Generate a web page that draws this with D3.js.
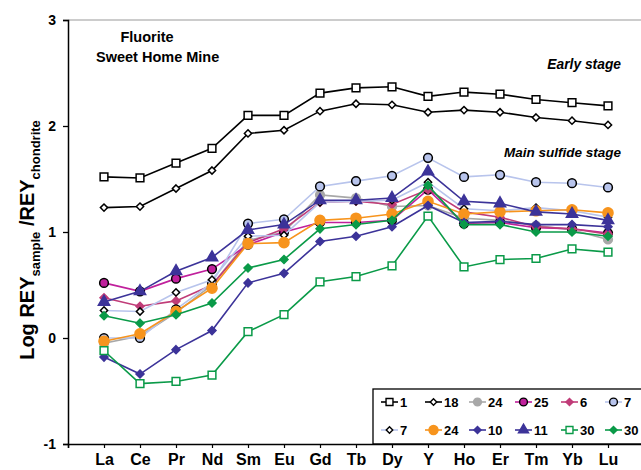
<!DOCTYPE html>
<html><head><meta charset="utf-8">
<script src="https://cdn.jsdelivr.net/npm/d3@7/dist/d3.min.js"></script>
<style>body{margin:0;background:#fff}svg{display:block;font-family:"Liberation Sans",Arial,sans-serif}</style>
</head><body>
<script>
const categories = ["La","Ce","Pr","Nd","Sm","Eu","Gd","Tb","Dy","Y","Ho","Er","Tm","Yb","Lu"];
const yTicks = [-1,0,1,2,3];
const s1     = [1.52,1.51,1.65,1.79,2.10,2.10,2.31,2.36,2.37,2.28,2.32,2.30,2.25,2.22,2.19];
const s18    = [1.23,1.24,1.41,1.58,1.93,1.96,2.14,2.21,2.20,2.13,2.15,2.13,2.08,2.05,2.01];
const s24g   = [-0.05,0.02,0.24,0.50,0.92,1.00,1.35,1.32,1.24,1.25,1.13,1.11,1.06,1.02,0.93];
const s25    = [0.52,0.44,0.56,0.65,0.88,1.00,1.09,1.09,1.11,1.40,1.08,1.09,1.04,1.03,0.99];
const s6     = [0.38,0.30,0.35,0.50,0.90,1.03,1.28,1.29,1.26,1.40,1.19,1.14,1.05,1.03,0.98];
const s7c    = [0.00,0.00,0.27,0.52,1.08,1.12,1.43,1.48,1.53,1.70,1.52,1.54,1.47,1.46,1.42];
const s7d    = [0.26,0.25,0.43,0.55,0.96,0.97,1.28,1.29,1.30,1.47,1.22,1.20,1.23,1.20,1.14];
const s24o   = [-0.03,0.04,0.25,0.47,0.89,0.90,1.11,1.13,1.17,1.29,1.17,1.19,1.20,1.21,1.18];
const s10    = [-0.18,-0.34,-0.11,0.07,0.52,0.61,0.91,0.96,1.05,1.25,1.09,1.10,1.07,1.07,1.05];
const s11    = [0.34,0.44,0.63,0.76,1.02,1.07,1.30,1.30,1.32,1.57,1.29,1.27,1.19,1.17,1.11];
const s30sq  = [-0.12,-0.43,-0.41,-0.35,0.06,0.22,0.53,0.58,0.68,1.15,0.67,0.74,0.75,0.84,0.81];
const s30d   = [0.21,0.14,0.22,0.33,0.66,0.74,1.03,1.07,1.11,1.44,1.07,1.07,1.00,1.00,0.96];
const seriesNames = ["1","18","24","25","6","7","7","24","10","11","30","30"];

const series = [
  {name:seriesNames[0], v:s1,   line:"#000",    sym:"square",  fill:"#fff",    stroke:"#000",    size:60},
  {name:seriesNames[1], v:s18,  line:"#000",    sym:"diamond", fill:"#fff",    stroke:"#000",    size:26},
  {name:seriesNames[2], v:s24g, line:"#a8a8a8", sym:"circle",  fill:"#a8a8a8", stroke:"#a8a8a8", size:60},
  {name:seriesNames[3], v:s25,  line:"#c0209c", sym:"circle",  fill:"#c0209c", stroke:"#000",    size:60},
  {name:seriesNames[4], v:s6,   line:"#c03c78", sym:"diamond", fill:"#c03c78", stroke:"#c03c78", size:32},
  {name:seriesNames[5], v:s7c,  line:"#b8c4ec", sym:"circle",  fill:"#b8c4ec", stroke:"#000",    size:60},
  {name:seriesNames[6], v:s7d,  line:"#b8c4ec", sym:"diamond", fill:"#fff",    stroke:"#000",    size:26},
  {name:seriesNames[7], v:s24o, line:"#f7941d", sym:"circle",  fill:"#f7941d", stroke:"#f7941d", size:80},
  {name:seriesNames[8], v:s10,  line:"#3c3399", sym:"diamond", fill:"#3c3399", stroke:"#3c3399", size:32},
  {name:seriesNames[9], v:s11,  line:"#3c3399", sym:"triangle",fill:"#3c3399", stroke:"#3c3399", size:55},
  {name:seriesNames[10],v:s30sq,line:"#0a9a48", sym:"square",  fill:"#fff",    stroke:"#0a9a48", size:60},
  {name:seriesNames[11],v:s30d, line:"#0a9a48", sym:"diamond", fill:"#0a9a48", stroke:"#0a9a48", size:32}
];
const squareDiamond = {draw(ctx,size){const r=Math.sqrt(size/2);ctx.moveTo(0,-r);ctx.lineTo(r,0);ctx.lineTo(0,r);ctx.lineTo(-r,0);ctx.closePath();}};
const symTypes = {square:d3.symbolSquare, diamond:squareDiamond, circle:d3.symbolCircle, triangle:d3.symbolTriangle};

const W=641,H=470;
const svg=d3.select("body").append("svg").attr("width",W).attr("height",H);
const x0=68, step=36;
const x=d3.scaleLinear().domain([0,16]).range([x0,x0+16*step]);
const y=d3.scaleLinear().domain([-1,3]).range([444,20]);

// top gray line
svg.append("line").attr("x1",x0).attr("x2",W).attr("y1",y(3)).attr("y2",y(3)).attr("stroke","#999").attr("stroke-width",1.2);

// legend box
const lg=svg.append("g");
lg.append("rect").attr("x",373).attr("y",389).attr("width",290).attr("height",y(-1)-389).attr("fill","#fff").attr("stroke","#000").attr("stroke-width",1.3);

// axes
const yAxis=svg.append("g").attr("transform",`translate(${x0},0)`)
  .call(d3.axisLeft(y).tickValues(yTicks).tickSize(5).tickFormat(d=>String(d)));
yAxis.select(".domain").attr("stroke-width",1.5);
yAxis.selectAll(".tick line").attr("stroke-width",1.3);
yAxis.selectAll("text").attr("font-size",14).attr("font-weight","bold").attr("fill","#000").attr("dx","-4");

const xAxis=svg.append("g").attr("transform",`translate(0,${y(-1)})`)
  .call(d3.axisBottom(x).tickValues(d3.range(0,17)).tickSize(4).tickFormat(i=>(i>=1&&i<=15)?categories[i-1]:""));
xAxis.select(".domain").attr("stroke-width",1.5);
xAxis.selectAll(".tick line").attr("stroke-width",1.2);
xAxis.selectAll("text").attr("font-size",16).attr("font-weight","bold").attr("fill","#000").attr("dy","0.9em");

// lines and markers
const lineGen=d3.line().x((d,i)=>x(i+1)).y(d=>y(d));
series.forEach(s=>{
  const g=svg.append("g");
  g.append("path").datum(s.v).attr("d",lineGen).attr("fill","none").attr("stroke",s.line).attr("stroke-width",1.6);
  g.selectAll("path.m").data(s.v).join("path").attr("class","m")
    .attr("transform",(d,i)=>`translate(${x(i+1)},${y(d)})`)
    .attr("d",d3.symbol(symTypes[s.sym],s.size))
    .attr("fill",s.fill).attr("stroke",s.stroke).attr("stroke-width",1.5);
});

// legend entries
const colX=[381,425,469,515,561,605];
const rowY=[402,430];
series.forEach((s,k)=>{
  const r=Math.floor(k/6), c=k%6;
  const gx=colX[c], gy=rowY[r];
  const g=lg.append("g");
  g.append("line").attr("x1",gx).attr("x2",gx+17).attr("y1",gy).attr("y2",gy).attr("stroke",s.line).attr("stroke-width",1.6);
  g.append("path").attr("transform",`translate(${gx+8.5},${gy})`).attr("d",d3.symbol(symTypes[s.sym],s.size*0.8))
    .attr("fill",s.fill).attr("stroke",s.stroke).attr("stroke-width",1.4);
  g.append("text").attr("x",gx+19).attr("y",gy+4.5).attr("font-size",13).attr("font-weight","bold").text(s.name);
});

// annotations
svg.append("text").attr("x",147).attr("y",42).attr("text-anchor","middle").attr("font-size",14.5).attr("font-weight","bold").text("Fluorite");
svg.append("text").attr("x",96).attr("y",62).attr("font-size",14.5).attr("font-weight","bold").text("Sweet Home Mine");
svg.append("text").attr("x",621).attr("y",69).attr("text-anchor","end").attr("font-size",13.8).attr("font-weight","bold").attr("font-style","italic").text("Early stage");
svg.append("text").attr("x",621).attr("y",157).attr("text-anchor","end").attr("font-size",13.5).attr("font-weight","bold").attr("font-style","italic").text("Main sulfide stage");

// y label
const yl=svg.append("text").attr("transform","translate(34,240) rotate(-90)").attr("text-anchor","middle").attr("font-weight","bold").attr("font-size",20);
yl.append("tspan").text("Log REY");
yl.append("tspan").attr("font-size",13).attr("dy",6).text("sample");
yl.append("tspan").attr("dy",-6).text(" /REY");
yl.append("tspan").attr("font-size",13).attr("dy",6).text("chondrite");
</script>
</body></html>
